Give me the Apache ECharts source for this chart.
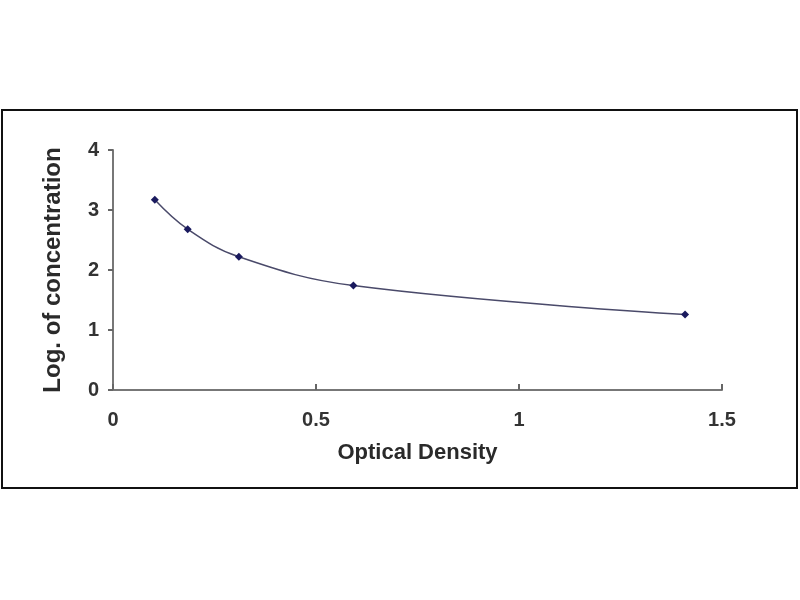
<!DOCTYPE html>
<html>
<head>
<meta charset="utf-8">
<script src="https://cdn.jsdelivr.net/npm/echarts@6/dist/echarts.min.js"></script>
<style>
html,body{margin:0;padding:0;background:#fff;}
#chart{width:800px;height:600px;}
</style>
</head>
<body>
<div id="chart"></div>
<script>
// standard curve points
var opticalDensity = [0.103, 0.184, 0.31, 0.592, 1.409];
var logConc = [3.17, 2.68, 2.22, 1.74, 1.26];
var xTicks = [0, 0.5, 1, 1.5];
var yTicks = [0, 1, 2, 3, 4];

var myChart = echarts.init(document.getElementById('chart'));
var fontFam = 'Liberation Sans, Arial, sans-serif';
myChart.setOption({
    animation: false,
    graphic: [{
        type: 'rect',
        shape: {x: 2, y: 110, width: 795, height: 378},
        style: {fill: 'none', stroke: '#111', lineWidth: 2}
    }],
    grid: {
        left: 113,
        right: 78,
        top: 150,
        bottom: 210,
        containLabel: false
    },
    xAxis: {
        type: 'value',
        min: xTicks[0],
        max: xTicks[xTicks.length - 1],
        interval: 0.5,
        name: 'Optical Density',
        nameLocation: 'middle',
        nameGap: 52,
        nameTextStyle: {fontSize: 22, fontFamily: fontFam, fontWeight: 'bold', color: '#2a2a2a'},
        axisLine: {lineStyle: {color: '#777', width: 2}},
        axisTick: {inside: true, length: 6, lineStyle: {color: '#666', width: 2}},
        splitLine: {show: false},
        axisLabel: {fontSize: 20, margin: 20, color: '#333', fontFamily: fontFam, fontWeight: 'bold'}
    },
    yAxis: {
        type: 'value',
        min: yTicks[0],
        max: yTicks[yTicks.length - 1],
        interval: 1,
        name: 'Log. of concentration',
        nameLocation: 'middle',
        nameGap: 48,
        nameRotate: 90,
        nameTextStyle: {fontSize: 24, fontFamily: fontFam, fontWeight: 'bold', color: '#2a2a2a'},
        axisLine: {show: true, lineStyle: {color: '#777', width: 2}},
        axisTick: {show: true, length: 5, lineStyle: {color: '#666', width: 2}},
        splitLine: {show: false},
        axisLabel: {fontSize: 20, margin: 14, color: '#333', fontFamily: fontFam, fontWeight: 'bold'}
    },
    series: [{
        type: 'line',
        smooth: 0.4,
        data: opticalDensity.map(function (x, i) {
            return [x, logConc[i]];
        }),
        symbol: 'diamond',
        symbolSize: 8,
        itemStyle: {color: '#1a1a5e'},
        lineStyle: {color: '#4a4a6a', width: 1.5}
    }]
});
</script>
</body>
</html>
